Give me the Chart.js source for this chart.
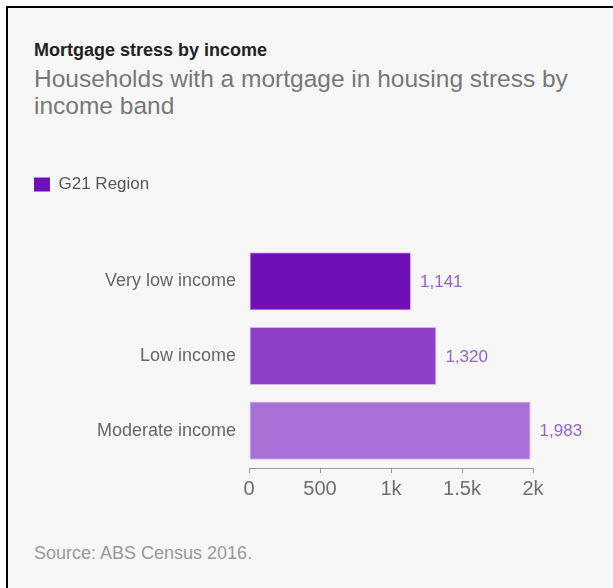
<!DOCTYPE html>
<html>
<head>
<meta charset="utf-8">
<script src="https://cdn.jsdelivr.net/npm/chart.js@4.4.1/dist/chart.umd.min.js"></script>
<style>
  html, body { margin: 0; padding: 0; background: #fff; }
  body { width: 613px; height: 588px; position: relative; overflow: hidden; font-family: 'Liberation Sans', Arial, sans-serif; }
  #frame { position: absolute; left: 6px; top: 6px; right: 0; bottom: 0; background: #f7f7f7; border-left: 2px solid #000; border-top: 2px solid #000; }
  .title { position: absolute; left: 34px; top: 40px; margin: 0; font-size: 18px; line-height: 20px; font-weight: bold; color: #222; }
  .subtitle { position: absolute; left: 34px; top: 65px; width: 560px; margin: 0; font-size: 24.5px; line-height: 27px; color: #777; }
  .source { position: absolute; left: 34px; top: 544px; margin: 0; font-size: 18px; line-height: 18px; color: #999; }
  #chartBox { position: absolute; left: 0; top: 166px; width: 613px; height: 344px; }
</style>
</head>
<body>
<div id="frame"></div>
<h1 class="title">Mortgage stress by income</h1>
<p class="subtitle">Households with a mortgage in housing stress by income band</p>
<div id="chartBox"><canvas id="chart"></canvas></div>
<p class="source">Source: ABS Census 2016.</p>

<script>
const categories = ['Very low income', 'Low income', 'Moderate income'];
const seriesName = 'G21 Region';
const households = [1141, 1320, 1983];
const barColors = ['#6e10b6', '#8e3fc8', '#a86fd6'];
const xTicks = [0, 500, 1000, 1500, 2000];
const xTickLabels = ['0', '500', '1k', '1.5k', '2k'];

const FONT = "'Liberation Sans', Arial, sans-serif";

// numbers at the end of each bar
const valueLabels = {
    id: 'valueLabels',
    afterDatasetsDraw(chart) {
        const ctx = chart.ctx;
        const meta = chart.getDatasetMeta(0);
        ctx.save();
        ctx.font = '17px ' + FONT;
        ctx.fillStyle = '#9363cf';
        ctx.textAlign = 'left';
        ctx.textBaseline = 'middle';
        meta.data.forEach((bar, i) => {
            const v = chart.data.datasets[0].data[i];
            ctx.fillText(v.toLocaleString('en-US'), bar.x + 9, bar.y + 1);
        });
        ctx.restore();
    }
};

// leave room between the legend and the bars
const legendGap = {
    id: 'legendGap',
    afterInit(chart) {
        const fit = chart.legend.fit;
        chart.legend.fit = function () {
            fit.call(this);
            this.height = 78;
        };
    }
};

const ctx = document.getElementById('chart').getContext('2d');
new Chart(ctx, {
    type: 'bar',
    data: {
        labels: categories,
        datasets: [{
            label: seriesName,
            data: households,
            backgroundColor: barColors,
            borderColor: 'rgba(214, 170, 240, 0.9)',
            borderWidth: 1,
            borderSkipped: false,
            barPercentage: 0.78,
            categoryPercentage: 1
        }]
    },
    options: {
        indexAxis: 'y',
        responsive: true,
        maintainAspectRatio: false,
        animation: false,
        layout: { padding: { left: 24, right: 80, top: 0, bottom: 8 } },
        scales: {
            x: {
                min: 0,
                max: 2000,
                afterBuildTicks(scale) {
                    scale.ticks = xTicks.map(v => ({ value: v }));
                },
                afterFit(scale) { scale.height = 34; },
                ticks: {
                    padding: 4,
                    color: '#6e6e6e',
                    font: { family: FONT, size: 20 },
                    callback: (v) => xTickLabels[xTicks.indexOf(v)]
                },
                grid: {
                    drawOnChartArea: false,
                    drawTicks: true,
                    tickLength: 5,
                    color: '#999'
                },
                border: { display: true, color: '#999', width: 1 }
            },
            y: {
                afterFit(scale) { scale.width = 225; },
                ticks: {
                    padding: 13,
                    color: '#666',
                    font: { family: FONT, size: 18 }
                },
                grid: { display: false, drawTicks: false },
                border: { display: false }
            }
        },
        plugins: {
            legend: {
                position: 'top',
                align: 'start',
                labels: {
                    boxWidth: 16,
                    boxHeight: 14,
                    padding: 10,
                    color: '#555',
                    font: { family: FONT, size: 17 },
                    generateLabels: () => [{
                        text: seriesName,
                        fillStyle: barColors[0],
                        strokeStyle: barColors[0],
                        fontColor: '#555',
                        lineWidth: 0,
                        datasetIndex: 0
                    }]
                }
            },
            tooltip: { enabled: false }
        }
    },
    plugins: [valueLabels, legendGap]
});
</script>
</body>
</html>
